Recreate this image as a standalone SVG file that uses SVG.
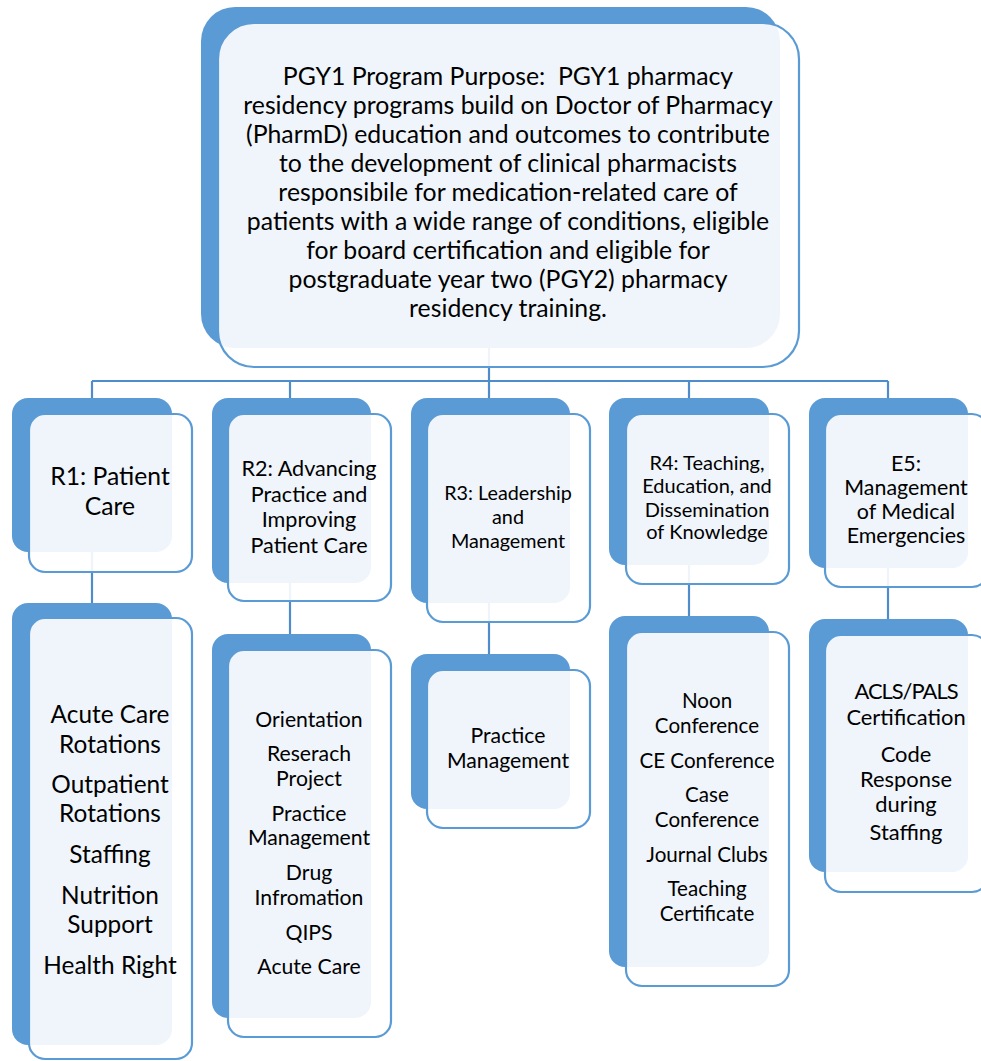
<svg xmlns="http://www.w3.org/2000/svg" width="981" height="1061" viewBox="0 0 981 1061">
  <style>
    .back { fill: #5B9BD5; }
    .front { fill: #FFFFFF; fill-opacity: 0.9; stroke: #5B9BD5; stroke-width: 2.2; }
    .link { fill: none; stroke: #4F8CCB; stroke-width: 2.2; }
    text { font-family: Lato, "Liberation Sans", sans-serif; fill: #000; text-anchor: middle; }
  </style>
  <rect width="981" height="1061" fill="#FFFFFF"/>

  <!-- tree connectors, drawn beneath the boxes -->
  <g id="connectors">
    <path class="link" d="M489,348 V381"/>
    <path class="link" d="M92,381 H888"/>
    <path class="link" d="M92,381 V398"/>
    <path class="link" d="M290,381 V398"/>
    <path class="link" d="M489,381 V398"/>
    <path class="link" d="M689,381 V398"/>
    <path class="link" d="M888,381 V398"/>
    <path class="link" d="M92,552 V603"/>
    <path class="link" d="M290,583 V634"/>
    <path class="link" d="M489,603 V654"/>
    <path class="link" d="M689,565 V616"/>
    <path class="link" d="M888,568 V619"/>
  </g>

  <!-- program purpose -->
  <g id="purpose">
    <rect class="back" x="201" y="7" width="579" height="341" rx="34"/>
    <rect class="front" x="218" y="23" width="581" height="344" rx="36"/>
    <g font-size="24.8">
      <text x="508" y="85" xml:space="preserve">PGY1 Program Purpose:  PGY1 pharmacy</text>
      <text x="508" y="114">residency programs build on Doctor of Pharmacy</text>
      <text x="508" y="143">(PharmD) education and outcomes to contribute</text>
      <text x="508" y="172">to the development of clinical pharmacists</text>
      <text x="508" y="201">responsibile for medication-related care of</text>
      <text x="508" y="230">patients with a wide range of conditions, eligible</text>
      <text x="508" y="259">for board certification and eligible for</text>
      <text x="508" y="288">postgraduate year two (PGY2) pharmacy</text>
      <text x="508" y="317">residency training.</text>
    </g>
  </g>

  <!-- competency areas -->
  <g id="r1">
    <rect class="back" x="12" y="398" width="160" height="154" rx="16"/>
    <rect class="front" x="29" y="414" width="163" height="158" rx="16"/>
    <g font-size="24.7">
      <text x="110" y="485">R1: Patient</text>
      <text x="110" y="515">Care</text>
    </g>
  </g>
  <g id="r2">
    <rect class="back" x="212" y="398" width="159" height="185" rx="16"/>
    <rect class="front" x="228" y="414" width="163" height="187" rx="16"/>
    <g font-size="21.6">
      <text x="309" y="476">R2: Advancing</text>
      <text x="309" y="502">Practice and</text>
      <text x="309" y="527">Improving</text>
      <text x="309" y="553">Patient Care</text>
    </g>
  </g>
  <g id="r3">
    <rect class="back" x="411" y="398" width="159" height="205" rx="16"/>
    <rect class="front" x="427" y="414" width="163" height="208" rx="16"/>
    <g font-size="19.8">
      <text x="508" y="500">R3: Leadership</text>
      <text x="508" y="524">and</text>
      <text x="508" y="548">Management</text>
    </g>
  </g>
  <g id="r4">
    <rect class="back" x="609" y="398" width="160" height="167" rx="16"/>
    <rect class="front" x="626" y="414" width="163" height="170" rx="16"/>
    <g font-size="20">
      <text x="707" y="470">R4: Teaching,</text>
      <text x="707" y="493">Education, and</text>
      <text x="707" y="517">Dissemination</text>
      <text x="707" y="539">of Knowledge</text>
    </g>
  </g>
  <g id="e5">
    <rect class="back" x="809" y="398" width="159" height="170" rx="16"/>
    <rect class="front" x="825" y="414" width="163" height="173" rx="16"/>
    <g font-size="21.4">
      <text x="906" y="471">E5:</text>
      <text x="906" y="495">Management</text>
      <text x="906" y="519">of Medical</text>
      <text x="906" y="543">Emergencies</text>
    </g>
  </g>

  <!-- activities under each area -->
  <g id="r1-activities">
    <rect class="back" x="12" y="603" width="160" height="442" rx="16"/>
    <rect class="front" x="29" y="618" width="163" height="441" rx="16"/>
    <g font-size="24.4">
      <text x="110" y="723">Acute Care</text>
      <text x="110" y="753">Rotations</text>
      <text x="110" y="793">Outpatient</text>
      <text x="110" y="822">Rotations</text>
      <text x="110" y="863">Staffing</text>
      <text x="110" y="904">Nutrition</text>
      <text x="110" y="933">Support</text>
      <text x="110" y="974">Health Right</text>
    </g>
  </g>
  <g id="r2-activities">
    <rect class="back" x="212" y="634" width="159" height="384" rx="16"/>
    <rect class="front" x="228" y="650" width="163" height="387" rx="16"/>
    <g font-size="21.2">
      <text x="309" y="727">Orientation</text>
      <text x="309" y="761">Reserach</text>
      <text x="309" y="786">Project</text>
      <text x="309" y="821">Practice</text>
      <text x="309" y="845">Management</text>
      <text x="309" y="880">Drug</text>
      <text x="309" y="905">Infromation</text>
      <text x="309" y="940">QIPS</text>
      <text x="309" y="974">Acute Care</text>
    </g>
  </g>
  <g id="r3-activities">
    <rect class="back" x="411" y="654" width="159" height="155" rx="16"/>
    <rect class="front" x="427" y="670" width="163" height="158" rx="16"/>
    <g font-size="21.2">
      <text x="508" y="743">Practice</text>
      <text x="508" y="768">Management</text>
    </g>
  </g>
  <g id="r4-activities">
    <rect class="back" x="609" y="616" width="160" height="351" rx="16"/>
    <rect class="front" x="626" y="632" width="163" height="354" rx="16"/>
    <g font-size="20.6">
      <text x="707" y="708">Noon</text>
      <text x="707" y="733">Conference</text>
      <text x="707" y="768">CE Conference</text>
      <text x="707" y="802">Case</text>
      <text x="707" y="827">Conference</text>
      <text x="707" y="862">Journal Clubs</text>
      <text x="707" y="896">Teaching</text>
      <text x="707" y="921">Certificate</text>
    </g>
  </g>
  <g id="e5-activities">
    <rect class="back" x="809" y="619" width="159" height="253" rx="16"/>
    <rect class="front" x="825" y="635" width="163" height="257" rx="16"/>
    <g font-size="21.9">
      <text x="906" y="699" letter-spacing="-1">ACLS/PALS</text>
      <text x="906" y="725">Certification</text>
      <text x="906" y="762">Code</text>
      <text x="906" y="787">Response</text>
      <text x="906" y="812">during</text>
      <text x="906" y="840">Staffing</text>
    </g>
  </g>
</svg>
